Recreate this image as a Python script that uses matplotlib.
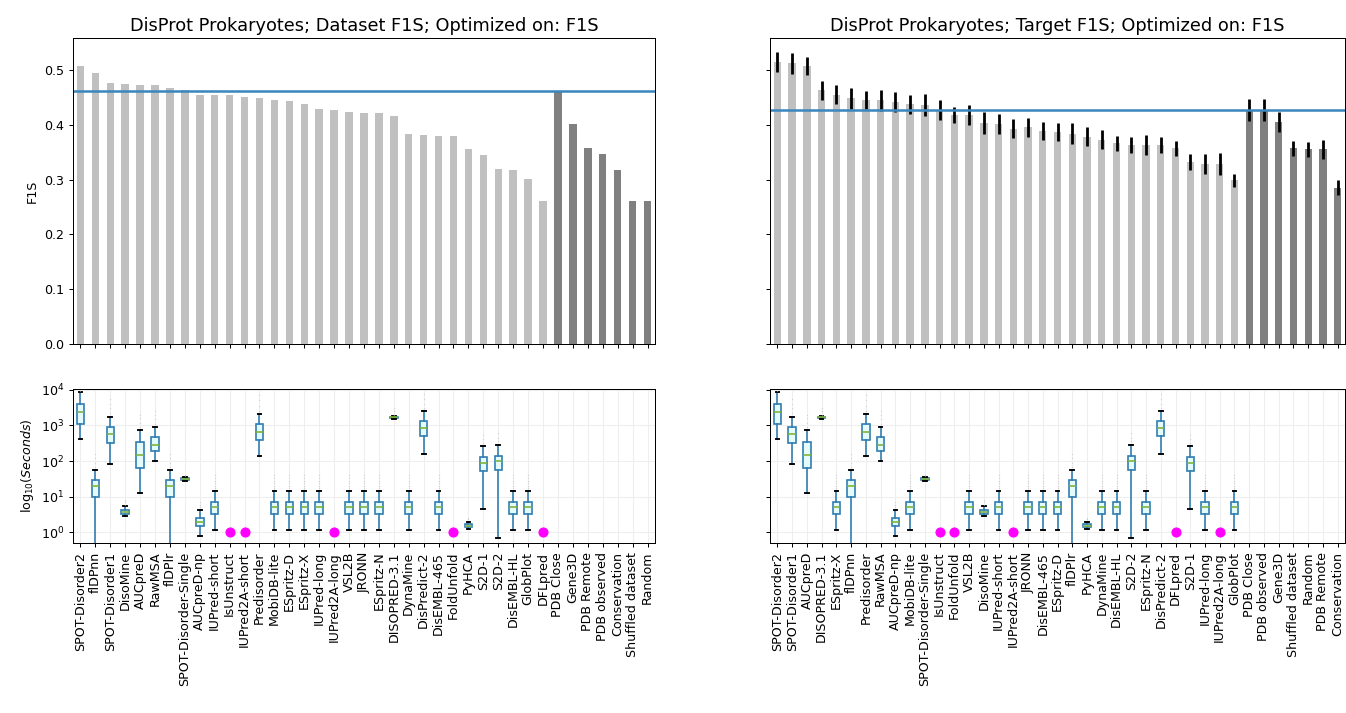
import numpy as np
import matplotlib
matplotlib.use("Agg")
from matplotlib import pyplot as plt

# ---- data ----
left_names = ["SPOT-Disorder2", "flDPnn", "SPOT-Disorder1", "DisoMine", "AUCpreD", "RawMSA",
              "flDPlr", "SPOT-Disorder-Single", "AUCpreD-np", "IUPred-short", "IsUnstruct",
              "IUPred2A-short", "Predisorder", "MobiDB-lite", "ESpritz-D", "ESpritz-X",
              "IUPred-long", "IUPred2A-long", "VSL2B", "JRONN", "ESpritz-N", "DISOPRED-3.1",
              "DynaMine", "DisPredict-2", "DisEMBL-465", "FoldUnfold", "PyHCA", "S2D-1", "S2D-2",
              "DisEMBL-HL", "GlobPlot", "DFLpred", "PDB Close", "Gene3D", "PDB Remote",
              "PDB observed", "Conservation", "Shuffled dataset", "Random"]
left_f1s = [0.507, 0.494, 0.477, 0.475, 0.472, 0.472, 0.467, 0.463, 0.454, 0.454, 0.454,
            0.451, 0.448, 0.446, 0.443, 0.437, 0.429, 0.427, 0.424, 0.421, 0.421, 0.416,
            0.384, 0.381, 0.379, 0.379, 0.355, 0.344, 0.320, 0.317, 0.301, 0.261,
            0.462, 0.402, 0.357, 0.347, 0.318, 0.261, 0.261]
left_ref = 0.462

right_names = ["SPOT-Disorder2", "SPOT-Disorder1", "AUCpreD", "DISOPRED-3.1", "ESpritz-X",
               "flDPnn", "Predisorder", "RawMSA", "AUCpreD-np", "MobiDB-lite",
               "SPOT-Disorder-Single", "IsUnstruct", "FoldUnfold", "VSL2B", "DisoMine",
               "IUPred-short", "IUPred2A-short", "JRONN", "DisEMBL-465", "ESpritz-D", "flDPlr",
               "PyHCA", "DynaMine", "DisEMBL-HL", "S2D-2", "ESpritz-N", "DisPredict-2",
               "DFLpred", "S2D-1", "IUPred-long", "IUPred2A-long", "GlobPlot", "PDB Close",
               "PDB observed", "Gene3D", "Shuffled dataset", "Random", "PDB Remote",
               "Conservation"]
right_f1s = [0.514, 0.512, 0.507, 0.463, 0.455, 0.448, 0.445, 0.445, 0.442, 0.437, 0.436,
             0.427, 0.418, 0.418, 0.404, 0.402, 0.393, 0.395, 0.389, 0.387, 0.384, 0.378,
             0.373, 0.366, 0.363, 0.363, 0.363, 0.357, 0.332, 0.329, 0.329, 0.299,
             0.427, 0.427, 0.405, 0.357, 0.355, 0.355, 0.285]
right_err = [0.018, 0.019, 0.017, 0.017, 0.017, 0.019, 0.017, 0.019, 0.018, 0.017, 0.020,
             0.018, 0.015, 0.018, 0.020, 0.018, 0.018, 0.018, 0.016, 0.017, 0.019, 0.017,
             0.017, 0.013, 0.015, 0.018, 0.015, 0.014, 0.014, 0.018, 0.020, 0.012,
             0.020, 0.020, 0.019, 0.014, 0.014, 0.018, 0.014]
right_ref = 0.427

baselines = ["PDB Close", "Gene3D", "PDB Remote", "PDB observed", "Conservation",
             "Shuffled dataset", "Random"]

# runtime in seconds: (whislo, q1, median, q3, whishi)
runtime = {
    "SPOT-Disorder2": (415, 1100, 2350, 4000, 8500),
    "flDPnn": (0.1, 10, 19.5, 30, 57),
    "SPOT-Disorder1": (84, 320, 570, 880, 1700),
    "DisoMine": (2.8, 3.3, 3.7, 4.1, 5.4),
    "AUCpreD": (12.7, 63, 150, 340, 720),
    "RawMSA": (100, 186, 290, 460, 880),
    "flDPlr": (0.1, 10, 19.5, 30, 57),
    "SPOT-Disorder-Single": (28, 29, 31, 33, 35),
    "AUCpreD-np": (0.8, 1.47, 1.95, 2.6, 4.1),
    "IUPred-short": (1.19, 3.3, 5.0, 6.9, 14),
    "Predisorder": (135, 400, 650, 1100, 2100),
    "MobiDB-lite": (1.19, 3.3, 5.0, 6.9, 14),
    "ESpritz-D": (1.19, 3.3, 5.0, 6.9, 14),
    "ESpritz-X": (1.19, 3.3, 5.0, 6.9, 14),
    "IUPred-long": (1.19, 3.3, 5.0, 6.9, 14),
    "VSL2B": (1.19, 3.3, 5.0, 6.9, 14),
    "JRONN": (1.19, 3.3, 5.0, 6.9, 14),
    "ESpritz-N": (1.19, 3.3, 5.0, 6.9, 14),
    "DISOPRED-3.1": (1560, 1600, 1670, 1750, 1800),
    "DynaMine": (1.19, 3.3, 5.0, 6.9, 14),
    "DisPredict-2": (160, 490, 850, 1300, 2470),
    "DisEMBL-465": (1.19, 3.3, 5.0, 6.9, 14),
    "PyHCA": (1.27, 1.38, 1.54, 1.7, 2.0),
    "S2D-1": (4.5, 51, 88, 130, 260),
    "S2D-2": (0.69, 57, 100, 140, 285),
    "DisEMBL-HL": (1.19, 3.3, 5.0, 6.9, 14),
    "GlobPlot": (1.19, 3.3, 5.0, 6.9, 14),
}
# predictors with no recorded runtime (drawn as a dot at 1 s)
no_runtime = ["IsUnstruct", "IUPred2A-short", "IUPred2A-long", "FoldUnfold", "DFLpred"]

# faint outliers above the upper whiskers
fliers = {
    "SPOT-Disorder2": [9500, 10500],
    "flDPnn": [70, 90, 120, 160],
    "SPOT-Disorder1": [2200, 3000, 4000, 5500],
    "DisoMine": [6, 7, 8],
    "AUCpreD": [900, 1200, 1600, 2000],
    "RawMSA": [1100, 1500, 2000, 2600],
    "flDPlr": [70, 90, 120, 160],
    "SPOT-Disorder-Single": [37, 40],
    "AUCpreD-np": [5, 6, 7],
    "Predisorder": [2600, 3500, 5000, 7000],
    "DISOPRED-3.1": [2000, 2500, 3000],
    "DisPredict-2": [3000, 4000, 5500, 7500],
    "PyHCA": [2.3, 2.6],
    "S2D-1": [330, 420, 550],
    "S2D-2": [360, 450, 600],
}
std_fliers = [17, 20, 24, 28, 33, 40]

light = "#c0c0c0"
dark = "#808080"
ref_col = "#3a87c0"
box_edge = "#2e7cb0"

dpi = 91
fig = plt.figure(figsize=(1346 / dpi, 713 / dpi), dpi=dpi)

ax_tl = fig.add_axes([0.0542, 0.5175, 0.4324, 0.429])
ax_tr = fig.add_axes([0.5721, 0.5175, 0.4272, 0.429], sharey=ax_tl)
ax_bl = fig.add_axes([0.0542, 0.2384, 0.4324, 0.216], sharex=ax_tl)
ax_br = fig.add_axes([0.5721, 0.2384, 0.4272, 0.216], sharex=ax_tr, sharey=ax_bl)


def draw_bars(ax, names, vals, ref, err=None, title=""):
    x = np.arange(len(names))
    cols = [dark if n in baselines else light for n in names]
    ax.bar(x, vals, width=0.5, color=cols)
    if err is not None:
        ax.errorbar(x, vals, yerr=err, fmt="none", ecolor="black", elinewidth=2.2, capsize=0)
    ax.axhline(ref, color=ref_col, lw=2)
    ax.set_title(title, fontsize=14)
    ax.set_xlim(-0.5, len(names) - 0.5)
    ax.tick_params(axis="x", labelbottom=False)


def draw_times(ax, names):
    stats = []
    pos = []
    dots = []
    for i, n in enumerate(names):
        if n in runtime:
            lo, q1, med, q3, hi = runtime[n]
            fl = fliers.get(n, std_fliers)
            stats.append(dict(whislo=lo, q1=q1, med=med, q3=q3, whishi=hi, fliers=fl))
            pos.append(i)
        elif n in no_runtime:
            dots.append(i)
    ax.bxp(stats, positions=pos, widths=0.5, patch_artist=True,
           boxprops=dict(facecolor="#e4fbfb", edgecolor=box_edge, lw=1.3),
           whiskerprops=dict(color=box_edge, lw=1.3),
           capprops=dict(color="black", lw=1.5),
           medianprops=dict(color="#7fb23a", lw=1.3),
           flierprops=dict(marker=".", markersize=2, markerfacecolor="#bbbbbb",
                           markeredgecolor="none", alpha=0.6))
    ax.plot(dots, [1] * len(dots), "o", color="#ff00ff", markersize=7, ls="none")
    ax.set_yscale("log")
    ax.set_ylim(0.5, 10500)
    ax.set_yticks([1, 10, 100, 1000, 10000])
    ax.minorticks_off()
    ax.grid(True, color="#eeeeee", lw=0.8)
    ax.set_axisbelow(True)
    ax.set_xticks(np.arange(len(names)))
    ax.set_xticklabels(names, rotation=90)
    ax.set_xlim(-0.5, len(names) - 0.5)


draw_bars(ax_tl, left_names, left_f1s, left_ref,
          title="DisProt Prokaryotes; Dataset F1S; Optimized on: F1S")
draw_bars(ax_tr, right_names, right_f1s, right_ref, err=right_err,
          title="DisProt Prokaryotes; Target F1S; Optimized on: F1S")
ax_tl.set_ylim(0, 0.558)
ax_tl.set_ylabel("F1S")
ax_tr.tick_params(axis="y", labelleft=False)

draw_times(ax_bl, left_names)
draw_times(ax_br, right_names)
ax_bl.set_ylabel(r"log$_{10}$($Seconds$)")
ax_br.tick_params(axis="y", labelleft=False)
ax_br.set_xticks(np.arange(len(right_names)))
ax_br.set_xticklabels(right_names, rotation=90)

fig.savefig("out.png", dpi=dpi)
